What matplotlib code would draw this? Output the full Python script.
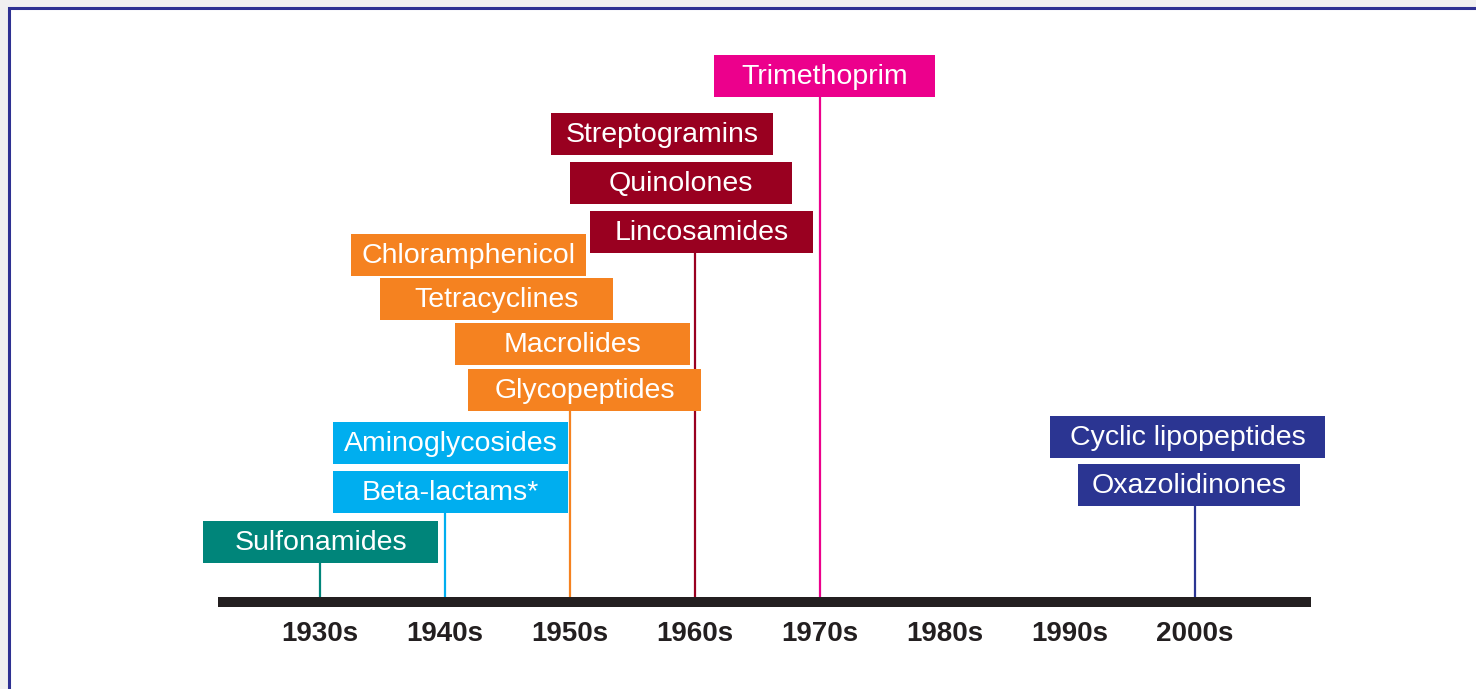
import matplotlib
matplotlib.use('Agg')
import matplotlib.pyplot as plt
from matplotlib.patches import Rectangle

plt.rcParams['font.family'] = ['Liberation Sans', 'DejaVu Sans']

# 数据：年代与抗生素类别
decades = ['1930s', '1940s', '1950s', '1960s', '1970s', '1980s', '1990s', '2000s']
classes = ['Sulfonamides', 'Beta-lactams*', 'Aminoglycosides',
           'Glycopeptides', 'Macrolides', 'Tetracyclines', 'Chloramphenicol',
           'Lincosamides', 'Quinolones', 'Streptogramins',
           'Trimethoprim',
           'Oxazolidinones', 'Cyclic lipopeptides']
class_decade = ['1930s', '1940s', '1940s',
                '1950s', '1950s', '1950s', '1950s',
                '1960s', '1960s', '1960s',
                '1970s',
                '2000s', '2000s']
decade_colors = {'1930s': '#00857a', '1940s': '#00aeef', '1950s': '#f58220',
                 '1960s': '#990020', '1970s': '#ec008c', '2000s': '#2b3592'}

# 版式：每个方框相对竖线的偏移(像素)、宽度(像素)、底部高度(像素)
PX = 125.0  # 每个年代的像素宽度
box_layout = {
    'Sulfonamides':        (-117, 235, 39),
    'Beta-lactams*':       (-112, 235, 89),
    'Aminoglycosides':     (-112, 235, 138),
    'Glycopeptides':       (-102, 233, 191),
    'Macrolides':          (-115, 235, 237),
    'Tetracyclines':       (-190, 233, 282),
    'Chloramphenicol':     (-219, 235, 326),
    'Lincosamides':        (-105, 223, 349),
    'Quinolones':          (-125, 222, 398),
    'Streptogramins':      (-144, 222, 447),
    'Trimethoprim':        (-106, 221, 505),
    'Oxazolidinones':      (-117, 222, 96),
    'Cyclic lipopeptides': (-145, 275, 144),
}
BOX_H = 42

fig = plt.figure(figsize=(14.76, 6.89), dpi=100)
fig.patch.set_facecolor('#f0f0f0')
fig.patches.append(Rectangle((9 / 1476, -0.05), 1.05, 1 - 8 / 689 + 0.05,
                             transform=fig.transFigure, facecolor='white',
                             edgecolor='#2e3192', linewidth=2.2, zorder=-5))

ax = fig.add_axes([0, 0, 1, 1])
ax.set_xlim(-320 / PX, (1476 - 320) / PX)
ax.set_ylim(-87, 602)
ax.axis('off')
ax.patch.set_alpha(0)

xpos = {d: i for i, d in enumerate(decades)}

# 时间轴
ax.plot([-102 / PX, 991 / PX], [0, 0], color='#231f20', linewidth=7.2,
        solid_capstyle='butt', zorder=3)

for d in decades:
    ax.text(xpos[d], -32, d, ha='center', va='center', fontsize=20,
            fontweight='bold', color='#231f20')

# 竖线：连接到每个年代最低的方框
for d in set(class_decade):
    lowest = min(box_layout[c][2] for c, cd in zip(classes, class_decade) if cd == d)
    ax.plot([xpos[d], xpos[d]], [0, lowest], color=decade_colors[d],
            linewidth=1.6, zorder=1)

# 方框与标签
for c, d in zip(classes, class_decade):
    off, w, bottom = box_layout[c]
    left = xpos[d] + off / PX
    ax.add_patch(Rectangle((left, bottom), w / PX, BOX_H,
                           facecolor=decade_colors[d], edgecolor='none', zorder=2))
    ax.text(left + w / PX / 2, bottom + 13, c, ha='center', va='baseline',
            fontsize=20.5, color='white', zorder=4)

fig.savefig('out.png', dpi=100, facecolor=fig.get_facecolor())
